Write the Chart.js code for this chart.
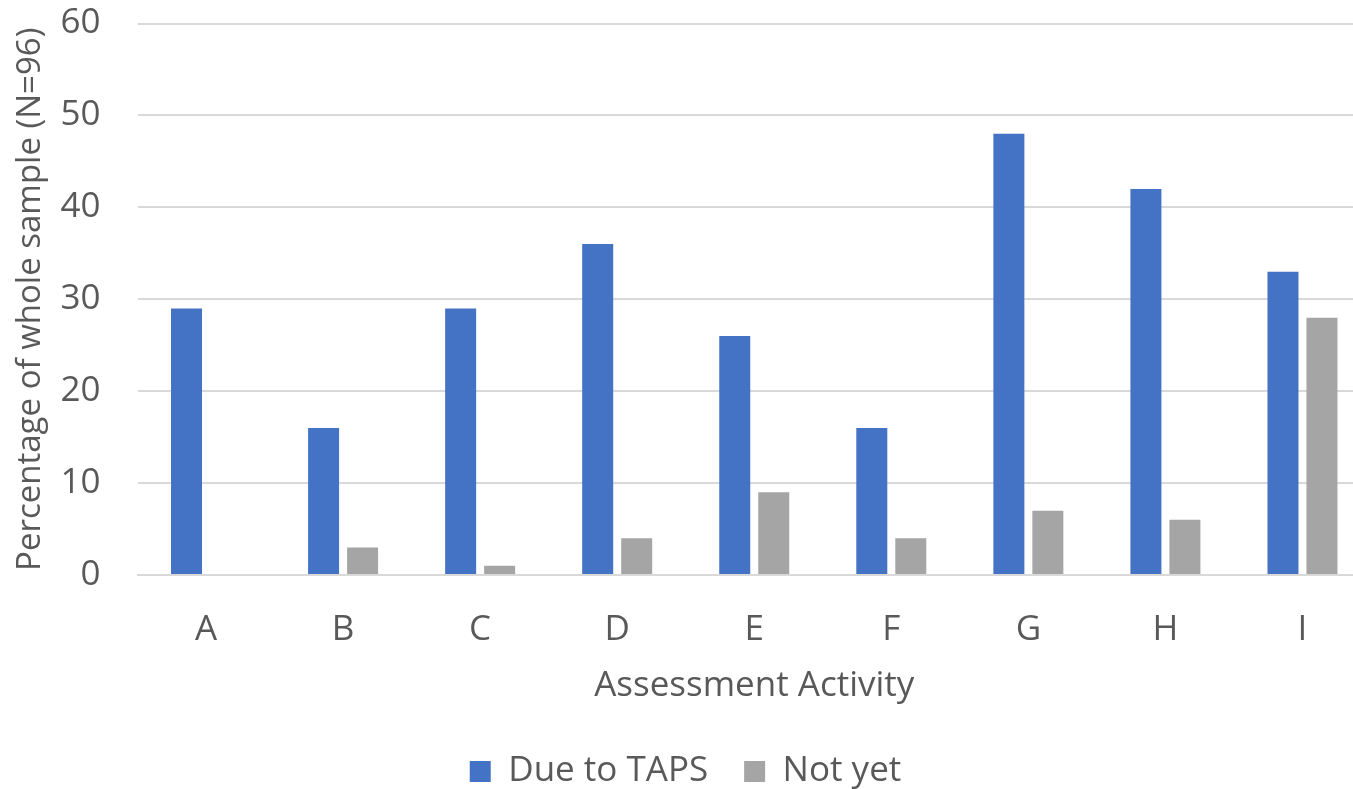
<!DOCTYPE html>
<html>
<head>
<meta charset="utf-8">
<script src="https://cdn.jsdelivr.net/npm/chart.js@4"></script>
<style>
html,body{margin:0;padding:0;background:#fff;overflow:hidden;width:1353px;height:789px;}
#wrap{width:1375px;height:789px;position:relative;}
</style>
</head>
<body>
<div id="wrap"><canvas id="c" width="1375" height="789"></canvas></div>
<script>
const categories = ["A","B","C","D","E","F","G","H","I"];
const dueToTaps = [29,16,29,36,26,16,48,42,33];
const notYet = [0,3,1,4,9,4,7,6,28];
const yTicks = [0,10,20,30,40,50,60];

const FONT = "'Open Sans', 'DejaVu Sans', sans-serif";
const TXT = "#595959";
const GRID = "#d9d9d9";

new Chart(document.getElementById('c'), {
  type: 'bar',
  data: {
    labels: categories,
    datasets: [
      {label: 'Due to TAPS', data: dueToTaps, backgroundColor: '#4472C4', categoryPercentage: 0.569, barPercentage: 0.795},
      {label: 'Not yet', data: notYet, backgroundColor: '#A5A5A5', categoryPercentage: 0.569, barPercentage: 0.795}
    ]
  },
  options: {
    responsive: false,
    animation: false,
    layout: {padding: {top: 23.5, left: 0, right: 4, bottom: -10}},
    plugins: {
      legend: {
        position: 'bottom',
        labels: {
          color: TXT,
          font: {family: FONT, size: 35},
          boxWidth: 21, boxHeight: 21,
          padding: 36
        }
      },
      tooltip: {enabled: false}
    },
    scales: {
      x: {
        grid: {display: false, drawTicks: false},
        border: {display: true, color: GRID, width: 2},
        ticks: {color: TXT, font: {family: FONT, size: 35}, padding: 34},
        title: {display: true, text: 'Assessment Activity', color: TXT, font: {family: FONT, size: 35}, padding: {top: 0, bottom: 11}},
        afterFit: s => { s.height = 143; s.paddingLeft = 0; s.paddingRight = 0; }
      },
      y: {
        min: 0, max: 60,
        afterBuildTicks: s => { s.ticks = yTicks.map(v => ({value: v})); },
        grid: {color: GRID, lineWidth: 2, drawTicks: false},
        border: {display: false},
        ticks: {color: TXT, font: {family: FONT, size: 35}, padding: 37},
        title: {display: true, text: 'Percentage of whole sample (N=96)', color: TXT, font: {family: FONT, size: 33}, padding: {top: 11, bottom: 0}},
        afterFit: s => { s.width = 137.5; s.paddingTop = 0; s.paddingBottom = 0; }
      }
    }
  }
});
</script>
</body>
</html>
